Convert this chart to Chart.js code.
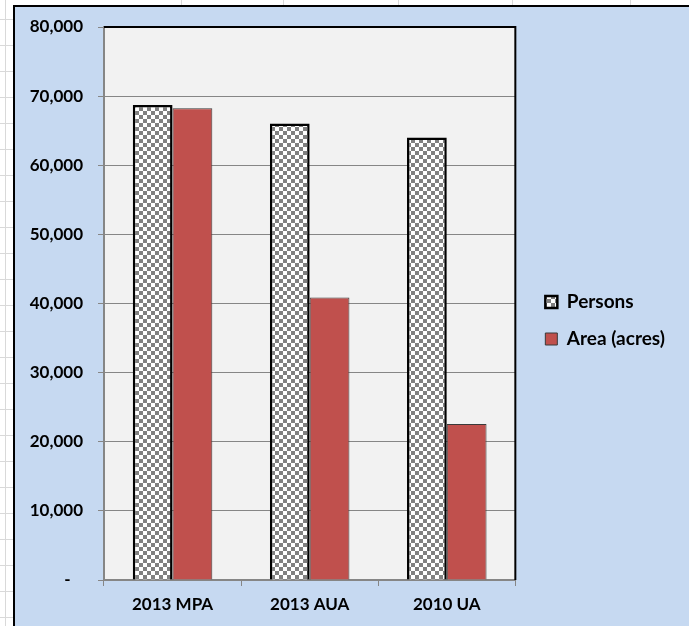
<!DOCTYPE html>
<html>
<head>
<meta charset="utf-8">
<script src="https://cdn.jsdelivr.net/npm/chart.js@4.4.1/dist/chart.umd.min.js"></script>
<style>
  html, body { margin: 0; padding: 0; width: 689px; height: 626px; overflow: hidden; background: #fff; }
  /* spreadsheet cells around the chart */
  #cellsLeft {
    position: absolute; left: 0; top: 0; width: 13px; height: 626px;
    background:
      linear-gradient(to right, transparent 5px, #d9d9d9 5px, #d9d9d9 6px, transparent 6px),
      repeating-linear-gradient(to bottom, transparent 0, transparent 19px, #d9d9d9 19px, #d9d9d9 20px, transparent 20px, transparent 26px);
  }
  #cellsTop {
    position: absolute; left: 0; top: 0; width: 689px; height: 5px;
    background:
      linear-gradient(to right, transparent 181px, #d9d9d9 181px, #d9d9d9 182px, transparent 182px,
        transparent 283px, #d9d9d9 283px, #d9d9d9 284px, transparent 284px,
        transparent 398px, #d9d9d9 398px, #d9d9d9 399px, transparent 399px,
        transparent 512px, #d9d9d9 512px, #d9d9d9 513px, transparent 513px,
        transparent 630px, #d9d9d9 630px, #d9d9d9 631px, transparent 631px);
  }
  #frame {
    position: absolute; left: 13px; top: 5px; width: 676px; height: 621px;
    background: #c6d9f1; border-left: 2px solid #000; border-top: 2px solid #000;
    box-sizing: border-box;
  }
  #wrap { position: absolute; left: 0; top: 0; width: 674px; height: 619px; }
</style>
</head>
<body>
<div id="cellsLeft"></div>
<div id="cellsTop"></div>
<div id="frame">
  <div id="wrap"><canvas id="chart"></canvas></div>
</div>
<script>
const categories = ['2013 MPA', '2013 AUA', '2010 UA'];
const persons = [68700, 66050, 64000];
const areaAcres = [68250, 40850, 22550];
const yTicks = [0, 10000, 20000, 30000, 40000, 50000, 60000, 70000, 80000];

// checkerboard fill like the Excel pattern
function checker() {
    const c = document.createElement('canvas');
    c.width = 8;
    c.height = 8;
    const g = c.getContext('2d');
    g.fillStyle = '#ffffff';
    g.fillRect(0, 0, 8, 8);
    g.fillStyle = '#808080';
    g.fillRect(0, 0, 4, 4);
    g.fillRect(4, 4, 4, 4);
    return g.createPattern(c, 'repeat');
}
const checkerFill = checker();

const font = 'Lato, "Open Sans", sans-serif';

const plotArea = {
    id: 'plotArea',
    beforeDraw(chart) {
        const { ctx, chartArea: a } = chart;
        ctx.save();
        ctx.fillStyle = '#f2f2f2';
        ctx.fillRect(a.left, a.top, a.right - a.left, a.bottom - a.top);
        ctx.restore();
    },
    afterDatasetsDraw(chart) {
        const { ctx, chartArea: a } = chart;
        ctx.save();
        ctx.strokeStyle = '#000';
        ctx.lineWidth = 2;
        ctx.beginPath();
        ctx.moveTo(a.left, a.top);
        ctx.lineTo(a.right, a.top);
        ctx.lineTo(a.right, a.bottom);
        ctx.stroke();
        ctx.restore();
    },
    afterLayout(chart) {
        // nudge legend a bit away from the plot area and up
        const lg = chart.legend;
        lg.left += 12;
        lg.right += 12;
        lg.top -= 6;
        lg.bottom -= 6;
    }
};

const chart = new Chart(document.getElementById('chart').getContext('2d'), {
    type: 'bar',
    data: {
        labels: categories,
        datasets: [
            {
                label: 'Persons',
                data: persons,
                backgroundColor: checkerFill,
                borderColor: '#000000',
                borderWidth: 2.5,
                borderSkipped: 'bottom'
            },
            {
                label: 'Area (acres)',
                data: areaAcres,
                backgroundColor: '#c0504d',
                borderColor: '#3a3a3a',
                borderWidth: 1,
                borderSkipped: 'bottom'
            }
        ]
    },
    options: {
        responsive: true,
        maintainAspectRatio: false,
        animation: false,
        events: [],
        categoryPercentage: 0.58,
        barPercentage: 1.0,
        layout: { padding: { top: 20, right: 26, left: 0, bottom: 0 } },
        scales: {
            x: {
                grid: {
                    offset: true,
                    drawOnChartArea: false,
                    drawTicks: true,
                    tickLength: 6,
                    color: '#868686'
                },
                border: { color: '#868686', width: 2 },
                ticks: {
                    color: '#000',
                    padding: 8,
                    font: { family: font, size: 17, weight: 'bold' }
                },
                afterFit(s) { s.height = 46; }
            },
            y: {
                min: 0,
                max: 80000,
                afterBuildTicks(s) { s.ticks = yTicks.map(v => ({ value: v })); },
                grid: {
                    color: '#868686',
                    tickLength: 6,
                    drawTicks: true
                },
                border: { color: '#868686', width: 2 },
                ticks: {
                    color: '#000',
                    padding: 15,
                    font: { family: font, size: 17, weight: 'bold' },
                    callback: v => v === 0 ? '-   ' : v.toLocaleString('en-US')
                },
                afterFit(s) {
                    s.width = 89;
                    s.paddingTop = 0;
                    s.paddingBottom = 0;
                }
            }
        },
        plugins: {
            legend: {
                position: 'right',
                labels: {
                    boxWidth: 12,
                    boxHeight: 12,
                    padding: 18,
                    color: '#000',
                    font: { family: font, size: 19, weight: 'bold' }
                }
            },
            tooltip: { enabled: false }
        }
    },
    plugins: [plotArea]
});
</script>
</body>
</html>
